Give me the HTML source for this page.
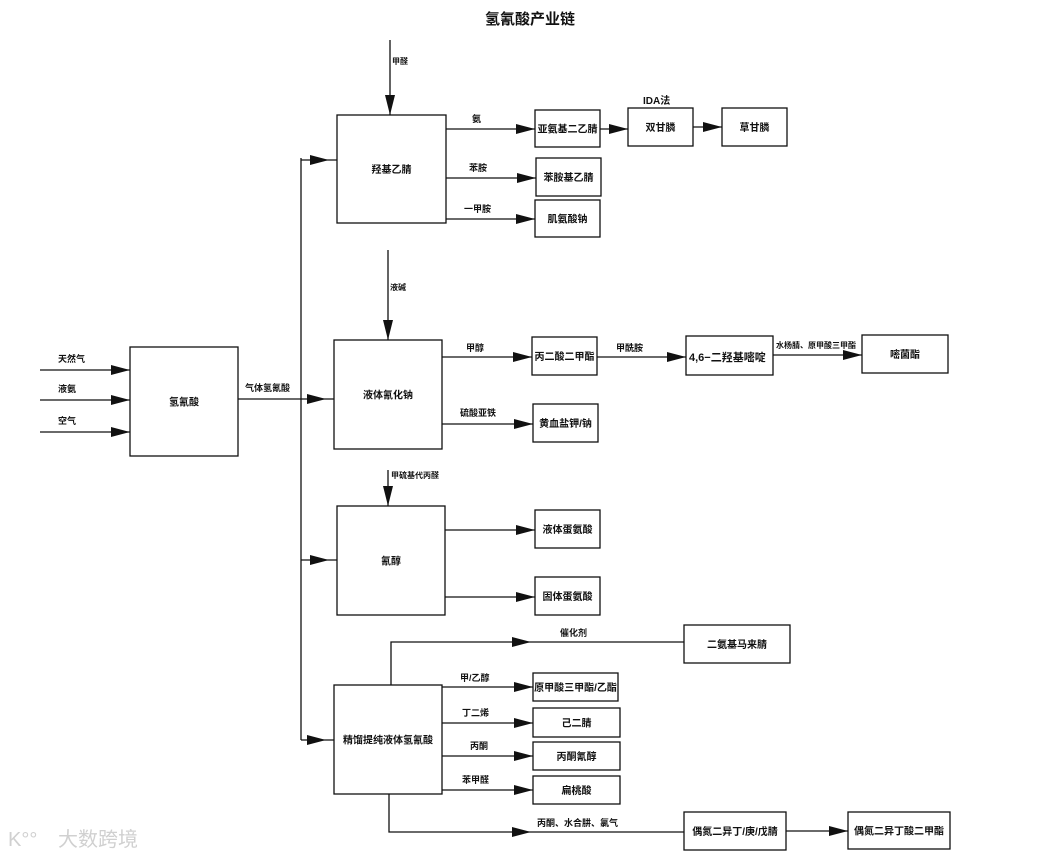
<!DOCTYPE html>
<html><head><meta charset="utf-8"><style>
html,body{margin:0;padding:0;background:#fff;}
svg{display:block;}
text{font-family:"Liberation Sans","Noto Sans CJK SC",sans-serif;font-weight:bold;fill:#111;}
</style></head><body>
<svg id="s" width="1056" height="859" viewBox="0 0 1056 859" xmlns="http://www.w3.org/2000/svg">
<text x="530" y="24" font-size="15" text-anchor="middle">氢氰酸产业链</text>
<g id="g" stroke="#111" stroke-width="1.3" fill="none"></g>
<g id="t"></g>
<text x="58" y="846" font-size="20" style="fill:#d0d0d0;font-weight:normal">大数跨境</text>
<text x="8" y="846" font-size="20" style="fill:#d0d0d0;font-weight:normal">K°°</text>
</svg>
<script>
const g=document.getElementById('g'),t=document.getElementById('t');
const NS='http://www.w3.org/2000/svg';
function el(p,n,a){const e=document.createElementNS(NS,n);for(const k in a)e.setAttribute(k,a[k]);p.appendChild(e);return e;}
function line(x1,y1,x2,y2){el(g,'line',{x1,y1,x2,y2});}
function pl(pts){el(g,'polyline',{points:pts});}
function box(x1,y1,x2,y2,label,fs){el(g,'rect',{x:x1,y:y1,width:x2-x1,height:y2-y1});if(label){const e=el(t,'text',{x:(x1+x2)/2,y:(y1+y2)/2+4,'font-size':fs||10,'text-anchor':'middle'});e.textContent=label;}}
function arR(x,y){el(t,'polygon',{points:`${x},${y} ${x-19},${y-5} ${x-19},${y+5}`,fill:'#111'});}
function arD(x,y){el(t,'polygon',{points:`${x},${y} ${x-5},${y-20} ${x+5},${y-20}`,fill:'#111'});}
function lab(x,y,s,fs){const e=el(t,'text',{x,y,'font-size':fs||9});e.textContent=s;}
[[370,'天然气'],[400,'液氨'],[432,'空气']].forEach(([y,s])=>{line(40,y,130,y);arR(130,y);lab(58,y-8,s);});
box(130,347,238,456,'氢氰酸');
line(238,399,334,399);arR(326,399);lab(245,391,'气体氢氰酸');
line(301,158,301,740);
box(337,115,446,223,'羟基乙腈');
line(301,160,337,160);arR(329,160);
line(390,40,390,115);arD(390,115);lab(392,64,'甲醛',8);
line(446,129,535,129);arR(535,129);lab(472,122,'氨');
box(535,110,600,147,'亚氨基二乙腈');
line(600,129,628,129);arR(628,129);
box(628,108,693,146,'双甘膦');
lab(643,104,'IDA法',10);
line(693,127,722,127);arR(722,127);
box(722,108,787,146,'草甘膦');
line(446,178,536,178);arR(536,178);lab(469,171,'苯胺');
box(536,158,601,196,'苯胺基乙腈');
line(446,219,535,219);arR(535,219);lab(464,212,'一甲胺');
box(535,200,600,237,'肌氨酸钠');
line(388,250,388,340);arD(388,340);lab(390,290,'液碱',8);
box(334,340,442,449,'液体氰化钠');
line(442,357,532,357);arR(532,357);lab(466,351,'甲醇');
box(532,337,597,375,'丙二酸二甲酯');
line(597,357,686,357);arR(686,357);lab(616,351,'甲酰胺');
box(686,336,773,375,'');lab(689,361,'4,6−二羟基嘧啶',11);
line(773,355,862,355);arR(862,355);lab(776,348,'水杨腈、原甲酸三甲酯',8);
box(862,335,948,373,'嘧菌酯');
line(442,424,533,424);arR(533,424);lab(460,416,'硫酸亚铁');
box(533,404,598,442,'黄血盐钾/钠');
line(388,470,388,506);arD(388,506);lab(391,478,'甲硫基代丙醛',8);
box(337,506,445,615,'氰醇');
line(301,560,337,560);arR(329,560);
line(445,530,535,530);arR(535,530);
box(535,510,600,548,'液体蛋氨酸');
line(445,597,535,597);arR(535,597);
box(535,577,600,615,'固体蛋氨酸');
box(334,685,442,794,'精馏提纯液体氢氰酸');
line(301,740,334,740);arR(326,740);
pl('391,685 391,642 684,642');arR(531,642);lab(560,636,'催化剂');
box(684,625,790,663,'二氨基马来腈');
line(442,687,533,687);arR(533,687);lab(460,681,'甲/乙醇');
box(533,673,618,701,'原甲酸三甲酯/乙酯');
line(442,723,533,723);arR(533,723);lab(462,716,'丁二烯');
box(533,708,620,737,'己二腈');
line(442,756,533,756);arR(533,756);lab(470,749,'丙酮');
box(533,742,620,770,'丙酮氰醇');
line(442,790,533,790);arR(533,790);lab(462,783,'苯甲醛');
box(533,776,620,804,'扁桃酸');
pl('389,794 389,832 684,832');arR(531,832);lab(537,826,'丙酮、水合肼、氯气');
box(684,812,786,850,'偶氮二异丁/庚/戊腈');
line(786,831,848,831);arR(848,831);
box(848,812,950,849,'偶氮二异丁酸二甲酯');
</script>
</body></html>
